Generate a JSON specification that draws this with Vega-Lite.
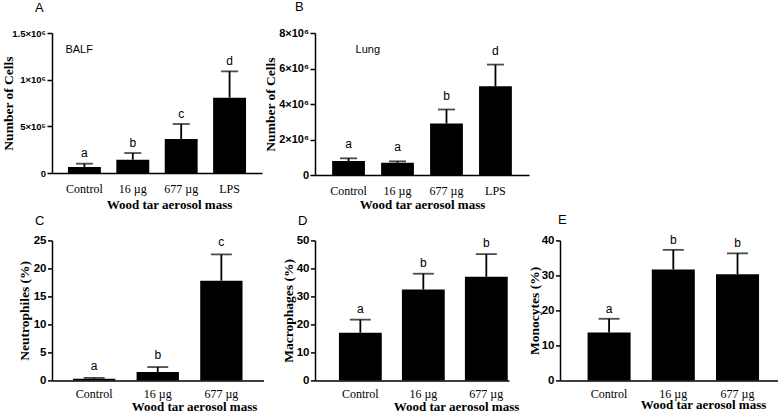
{
  "$schema": "https://vega.github.io/schema/vega-lite/v6.json",
  "background": "white",
  "padding": {"left": 0, "top": 0, "right": 0, "bottom": 0},
  "spacing": 2.4,
  "config": {
    "view": {"stroke": null},
    "axis": {"domainColor": "#000", "domainWidth": 1.5, "tickColor": "#000", "tickWidth": 1.5, "grid": false, "labelColor": "#000", "titleColor": "#000"},
    "axisX": {"ticks": false, "tickSize": 0, "labelFont": "Liberation Serif", "labelFontSize": 12, "labelFontWeight": "normal", "labelAngle": 0, "labelBaseline": "alphabetic", "labelPadding": 17, "titleFont": "Liberation Serif", "titleFontSize": 13, "titleFontWeight": "bold", "titleBaseline": "alphabetic"},
    "axisY": {"tickSize": 4.5, "tickCount": 10, "labelFont": "Liberation Sans", "labelFontSize": 11.5, "labelFontWeight": "bold", "labelPadding": 1.5, "labelOverlap": false, "titleFont": "Liberation Serif", "titleFontSize": 13.5, "titleFontWeight": "bold", "titleBaseline": "alphabetic"},
    "title": {"font": "Liberation Sans", "fontSize": 13, "fontWeight": "normal", "anchor": "start", "frame": "group", "color": "#000", "baseline": "alphabetic"},
    "text": {"font": "Liberation Sans", "fontSize": 12, "color": "#000"}
  },
  "datasets": {
    "balf": [
      {"group": "Control", "mean": 64000, "upper": 100000, "sig": "a"},
      {"group": "16 µg", "mean": 143000, "upper": 214000, "sig": "b"},
      {"group": "677 µg", "mean": 364000, "upper": 525000, "sig": "c"},
      {"group": "LPS", "mean": 807000, "upper": 1089000, "sig": "d"}
    ],
    "lung": [
      {"group": "Control", "mean": 790000, "upper": 940000, "sig": "a"},
      {"group": "16 µg", "mean": 690000, "upper": 770000, "sig": "a"},
      {"group": "677 µg", "mean": 2900000, "upper": 3690000, "sig": "b"},
      {"group": "LPS", "mean": 5000000, "upper": 6220000, "sig": "d"}
    ],
    "neut": [
      {"group": "Control", "mean": 0.3, "upper": 0.45, "sig": "a"},
      {"group": "16 µg", "mean": 1.49, "upper": 2.38, "sig": "b"},
      {"group": "677 µg", "mean": 17.8, "upper": 22.5, "sig": "c"}
    ],
    "macro": [
      {"group": "Control", "mean": 17.0, "upper": 21.7, "sig": "a"},
      {"group": "16 µg", "mean": 32.5, "upper": 38.1, "sig": "b"},
      {"group": "677 µg", "mean": 37.0, "upper": 45.1, "sig": "b"}
    ],
    "mono": [
      {"group": "Control", "mean": 13.7, "upper": 17.6, "sig": "a"},
      {"group": "16 µg", "mean": 31.7, "upper": 37.3, "sig": "b"},
      {"group": "677 µg", "mean": 30.3, "upper": 36.3, "sig": "b"}
    ],
    "balfLabel": [{"label": "BALF"}],
    "lungLabel": [{"label": "Lung"}]
  },
  "vconcat": [
    {
      "hconcat": [
        {
          "width": 210, "height": 140,
          "title": {"text": "A", "dx": -17, "offset": 13},
          "data": {"name": "balf"},
          "encoding": {"x": {"field": "group", "type": "nominal", "sort": null, "scale": {"paddingInner": 0.32, "paddingOuter": 0.33}, "axis": {"title": "Wood tar aerosol mass", "titleX": 117, "titleY": 35, "labelPadding": 19.5}}},
          "layer": [
            {"mark": {"type": "bar", "color": "#000"}, "encoding": {"y": {"field": "mean", "type": "quantitative", "scale": {"domain": [0, 1500000], "nice": false}, "axis": {"values": [0, 500000, 1000000, 1500000], "tickCount": 10, "labelOverlap": false, "labelFontSize": 9.5, "tickSize": 5, "labelExpr": "datum.value == 0 ? '0' : datum.value == 500000 ? '5×10⁵' : datum.value == 1000000 ? '1×10⁶' : '1.5×10⁶'", "title": "Number of Cells", "titleX": -40}}}},
            {"mark": {"type": "rule", "color": "#000", "strokeWidth": 1.8}, "encoding": {"y": {"field": "mean", "type": "quantitative", "title": "Number of Cells"}, "y2": {"field": "upper"}}},
            {"mark": {"type": "tick", "color": "#000", "thickness": 1.8, "size": 17}, "encoding": {"y": {"field": "upper", "type": "quantitative", "title": "Number of Cells"}}},
            {"mark": {"type": "text", "baseline": "middle", "dy": -10.5}, "encoding": {"y": {"field": "upper", "type": "quantitative", "title": "Number of Cells"}, "text": {"field": "sig"}}},
            {"data": {"name": "balfLabel"}, "mark": {"type": "text", "align": "left", "baseline": "middle", "dx": -19, "fontSize": 11}, "encoding": {"x": {"datum": "Control"}, "y": {"datum": 1320000}, "text": {"field": "label"}}}
          ]
        },
        {
          "width": 214, "height": 142,
          "title": {"text": "B", "dx": -20, "offset": 13.5},
          "data": {"name": "lung"},
          "encoding": {"x": {"field": "group", "type": "nominal", "sort": null, "scale": {"paddingInner": 0.33, "paddingOuter": 0.35}, "axis": {"title": "Wood tar aerosol mass", "titleX": 107, "titleY": 33, "labelPadding": 19}}},
          "layer": [
            {"mark": {"type": "bar", "color": "#000"}, "encoding": {"y": {"field": "mean", "type": "quantitative", "scale": {"domain": [0, 8000000], "nice": false}, "axis": {"values": [0, 2000000, 4000000, 6000000, 8000000], "tickCount": 10, "labelOverlap": false, "labelFontSize": 11, "tickSize": 5, "labelExpr": "datum.value == 0 ? '0' : (datum.value / 1000000) + '×10⁶'", "title": "Number of Cells", "titleX": -41}}}},
            {"mark": {"type": "rule", "color": "#000", "strokeWidth": 1.8}, "encoding": {"y": {"field": "mean", "type": "quantitative", "title": "Number of Cells"}, "y2": {"field": "upper"}}},
            {"mark": {"type": "tick", "color": "#000", "thickness": 1.8, "size": 17}, "encoding": {"y": {"field": "upper", "type": "quantitative", "title": "Number of Cells"}}},
            {"mark": {"type": "text", "baseline": "middle", "dy": -14}, "encoding": {"y": {"field": "upper", "type": "quantitative", "title": "Number of Cells"}, "text": {"field": "sig"}}},
            {"data": {"name": "lungLabel"}, "mark": {"type": "text", "align": "left", "baseline": "middle", "dx": 7, "fontSize": 11}, "encoding": {"x": {"datum": "Control"}, "y": {"datum": 7060000}, "text": {"field": "label"}}}
          ]
        }
      ],
      "spacing": 53,
      "bounds": "flush"
    },
    {
      "hconcat": [
        {
          "width": 211.5, "height": 140,
          "title": {"text": "C", "dx": -17, "offset": 6.6},
          "data": {"name": "neut"},
          "encoding": {"x": {"field": "group", "type": "nominal", "sort": null, "scale": {"paddingInner": 0.335, "paddingOuter": 0.33}, "axis": {"title": "Wood tar aerosol mass", "titleX": 142, "titleY": 30}}},
          "layer": [
            {"mark": {"type": "bar", "color": "#000"}, "encoding": {"y": {"field": "mean", "type": "quantitative", "scale": {"domain": [0, 25], "nice": false}, "axis": {"values": [0, 5, 10, 15, 20, 25], "tickCount": 10, "labelOverlap": false, "title": "Neutrophiles (%)", "titleX": -24}}}},
            {"mark": {"type": "rule", "color": "#000", "strokeWidth": 1.8}, "encoding": {"y": {"field": "mean", "type": "quantitative", "title": "Neutrophiles (%)"}, "y2": {"field": "upper"}}},
            {"mark": {"type": "tick", "color": "#000", "thickness": 1.8, "size": 21}, "encoding": {"y": {"field": "upper", "type": "quantitative", "title": "Neutrophiles (%)"}}},
            {"mark": {"type": "text", "baseline": "middle", "dy": -12}, "encoding": {"y": {"field": "upper", "type": "quantitative", "title": "Neutrophiles (%)"}, "text": {"field": "sig"}}}
          ]
        },
        {
          "width": 194, "height": 140,
          "title": {"text": "D", "dx": -17, "offset": 6.6},
          "data": {"name": "macro"},
          "encoding": {"x": {"field": "group", "type": "nominal", "sort": null, "scale": {"paddingInner": 0.32, "paddingOuter": 0.2, "align": 0.95}, "axis": {"title": "Wood tar aerosol mass", "titleX": 141, "titleY": 30}}},
          "layer": [
            {"mark": {"type": "bar", "color": "#000"}, "encoding": {"y": {"field": "mean", "type": "quantitative", "scale": {"domain": [0, 50], "nice": false}, "axis": {"values": [0, 10, 20, 30, 40, 50], "tickCount": 10, "labelOverlap": false, "title": "Macrophages (%)", "titleX": -22.5}}}},
            {"mark": {"type": "rule", "color": "#000", "strokeWidth": 1.8}, "encoding": {"y": {"field": "mean", "type": "quantitative", "title": "Macrophages (%)"}, "y2": {"field": "upper"}}},
            {"mark": {"type": "tick", "color": "#000", "thickness": 1.8, "size": 21}, "encoding": {"y": {"field": "upper", "type": "quantitative", "title": "Macrophages (%)"}}},
            {"mark": {"type": "text", "baseline": "middle", "dy": -11}, "encoding": {"y": {"field": "upper", "type": "quantitative", "title": "Macrophages (%)"}, "text": {"field": "sig"}}}
          ]
        },
        {
          "width": 219, "height": 140,
          "title": {"text": "E", "dx": -2, "offset": 6.6},
          "data": {"name": "mono"},
          "encoding": {"x": {"field": "group", "type": "nominal", "sort": null, "scale": {"paddingInner": 0.33, "paddingOuter": 0.37, "align": 0.58}, "axis": {"title": "Wood tar aerosol mass", "titleX": 143, "titleY": 28.5}}},
          "layer": [
            {"mark": {"type": "bar", "color": "#000"}, "encoding": {"y": {"field": "mean", "type": "quantitative", "scale": {"domain": [0, 40], "nice": false}, "axis": {"values": [0, 10, 20, 30, 40], "tickCount": 10, "labelOverlap": false, "title": "Monocytes (%)", "titleX": -21.5}}}},
            {"mark": {"type": "rule", "color": "#000", "strokeWidth": 1.8}, "encoding": {"y": {"field": "mean", "type": "quantitative", "title": "Monocytes (%)"}, "y2": {"field": "upper"}}},
            {"mark": {"type": "tick", "color": "#000", "thickness": 1.8, "size": 21}, "encoding": {"y": {"field": "upper", "type": "quantitative", "title": "Monocytes (%)"}}},
            {"mark": {"type": "text", "baseline": "middle", "dy": -10}, "encoding": {"y": {"field": "upper", "type": "quantitative", "title": "Monocytes (%)"}, "text": {"field": "sig"}}}
          ]
        }
      ],
      "spacing": 51,
      "bounds": "flush"
    }
  ]
}
